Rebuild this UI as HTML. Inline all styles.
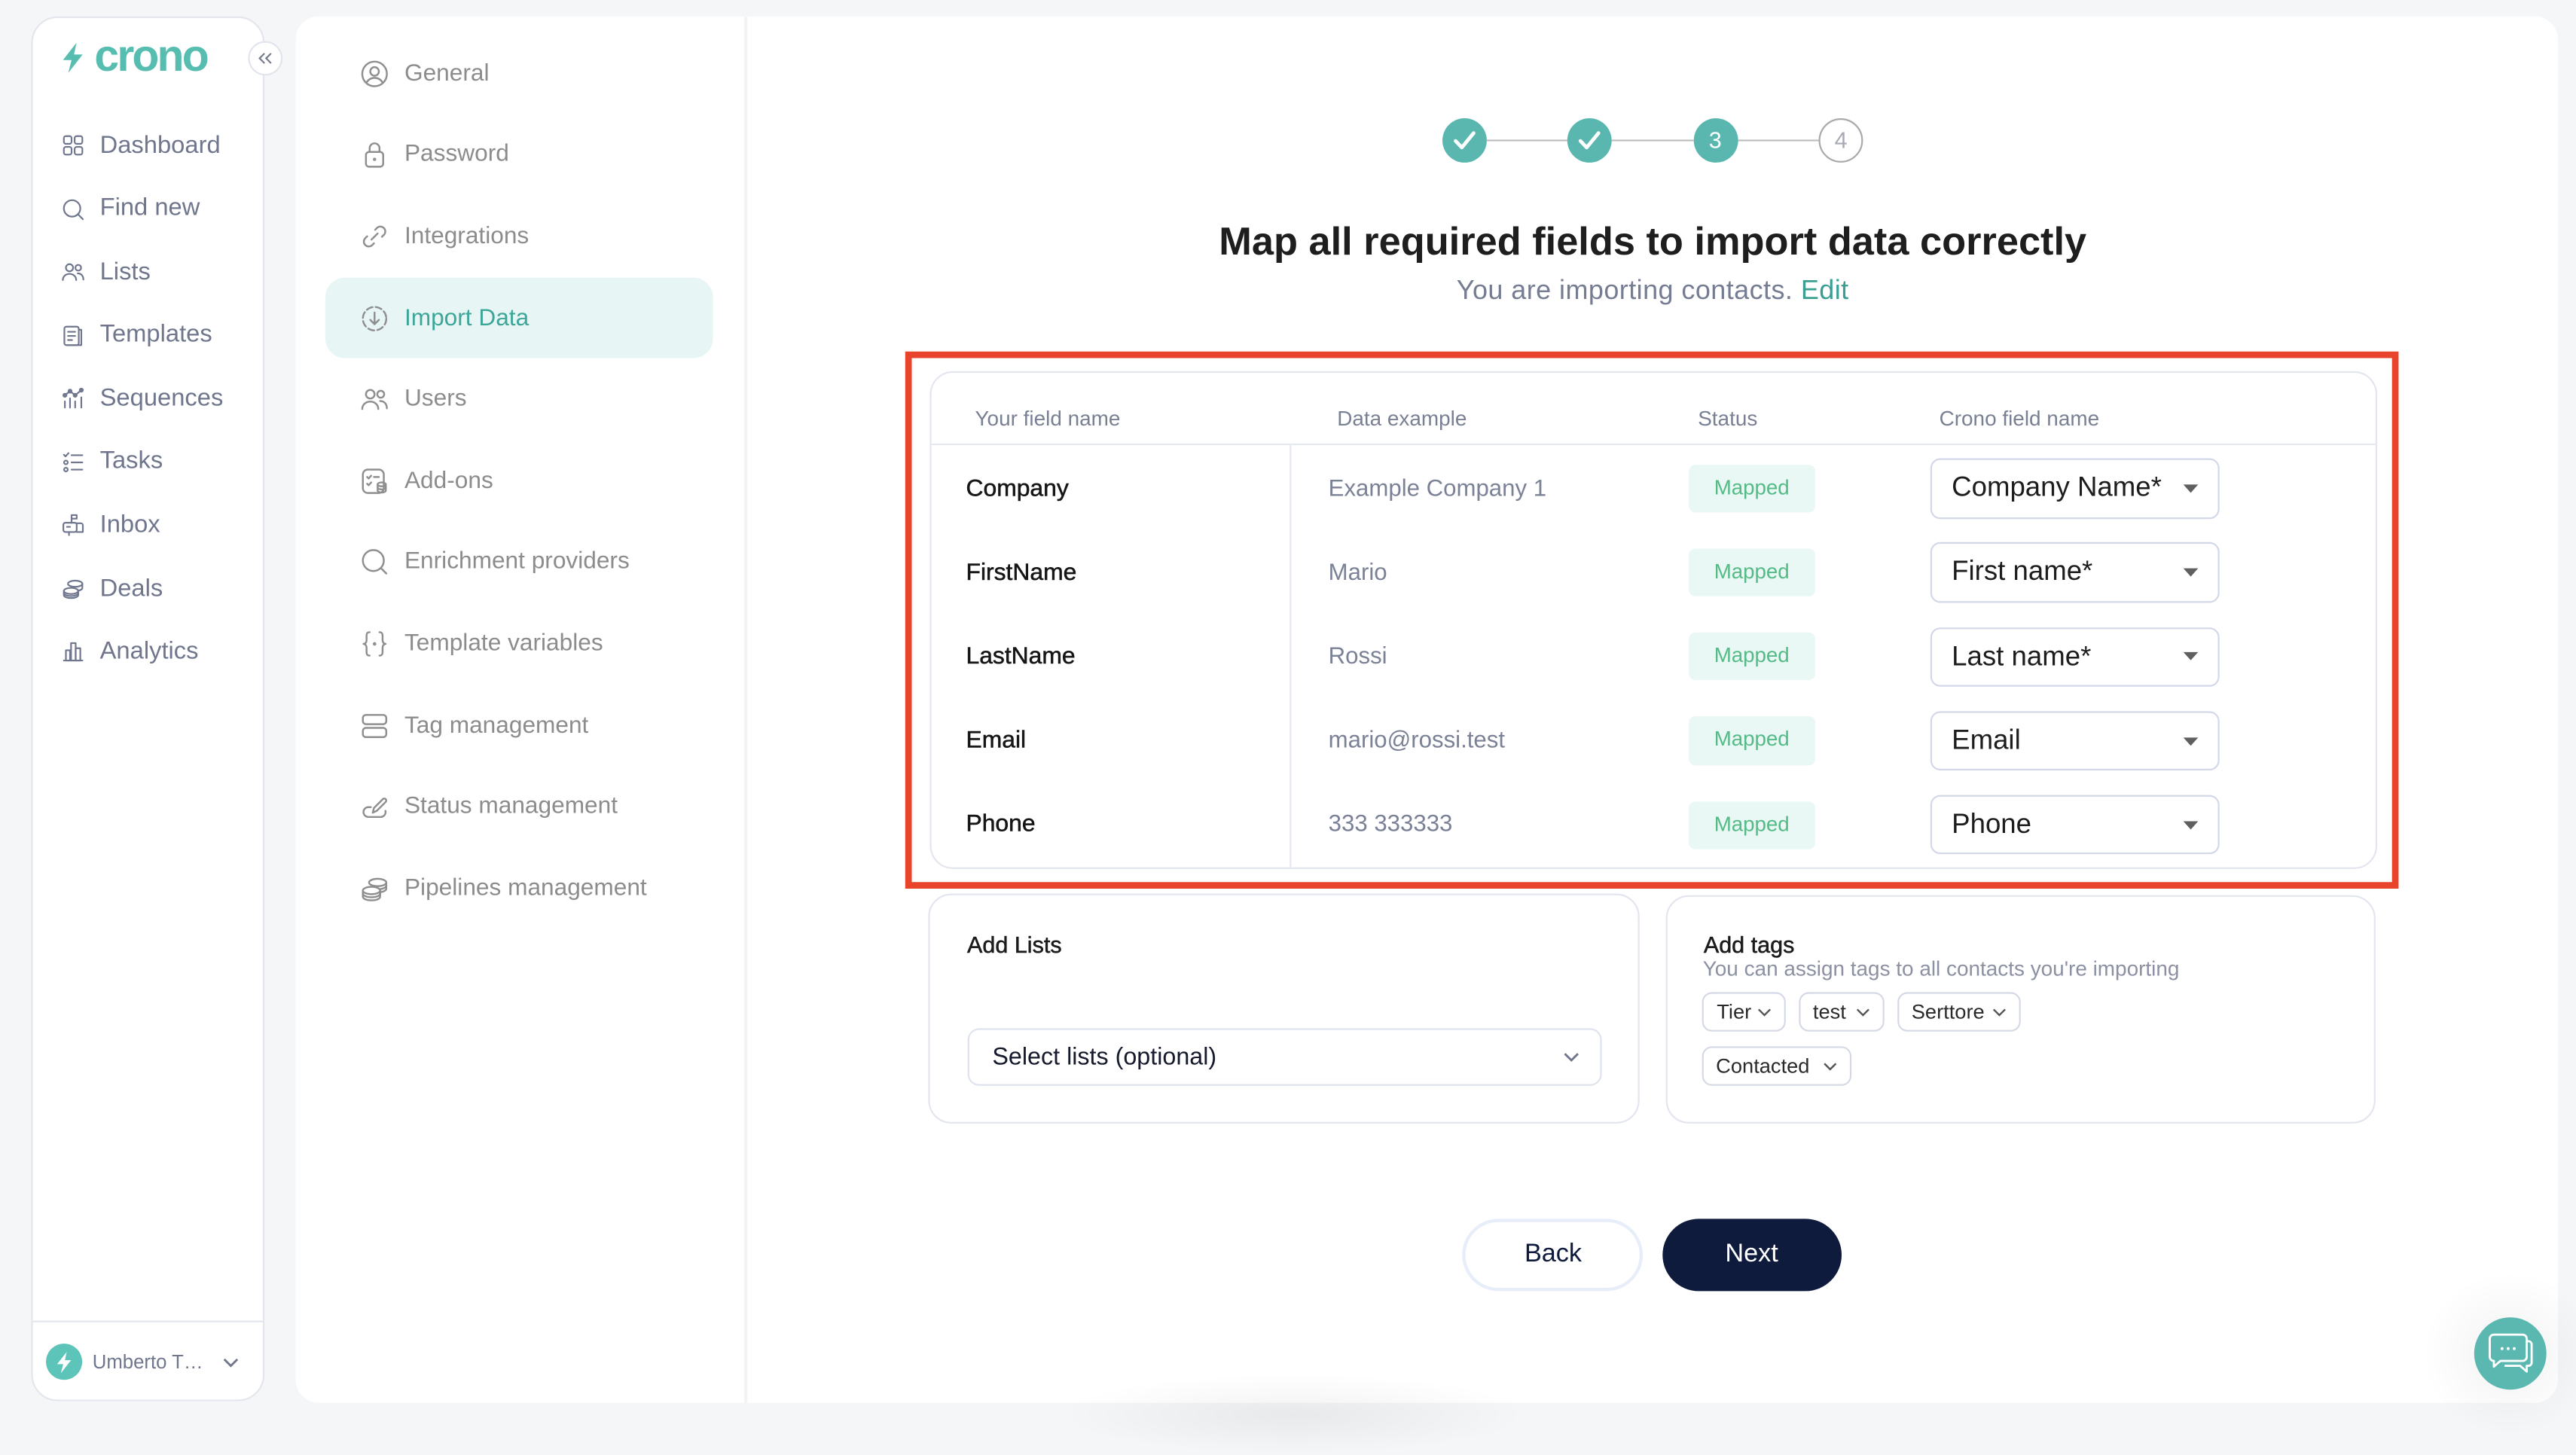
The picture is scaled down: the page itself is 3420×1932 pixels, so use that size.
<!DOCTYPE html>
<html><head><meta charset="utf-8">
<style>
html,body{margin:0;padding:0;}
body{width:3420px;height:1878px;overflow:hidden;background:#f5f6f8;font-family:"Liberation Sans",Arial,sans-serif;}
#root{position:absolute;left:0;top:0;width:1568px;height:861px;transform:scale(2.181122);transform-origin:0 0;}
.a{position:absolute;box-sizing:border-box;}
.t{position:absolute;white-space:nowrap;line-height:20px;height:20px;}
svg{position:absolute;overflow:visible;}
.nv{font-size:15px;color:#6f768d;left:60.8px;}
.ni{left:36.5px;width:15px;height:15px;}
.ni *{fill:none;stroke:#6f768d;stroke-width:1.6;stroke-linecap:round;stroke-linejoin:round;}
.st{font-size:14.5px;color:#8c8c8c;left:246.2px;}
.si{left:218.5px;width:18px;height:18px;}
.si *{fill:none;stroke:#8f8f8f;stroke-width:1.5;stroke-linecap:round;stroke-linejoin:round;}
.hd{font-size:12.8px;color:#7a8094;top:245.4px;}
.c1{font-size:14.6px;color:#161616;left:588px;-webkit-text-stroke:0.25px #161616;}
.c2{font-size:14.3px;color:#7b8196;left:808.6px;}
.badge{left:1028px;width:76.6px;height:29.2px;background:#e9f7f5;border-radius:4px;font-size:12.7px;color:#55bb86;text-align:center;line-height:29.2px;}
.dd{left:1175px;width:175.6px;height:36.3px;border:1px solid #d3d8e8;border-radius:6px;background:#fff;font-size:16.8px;color:#1d1d1d;line-height:34.3px;padding-left:12px;white-space:nowrap;}
.tag{height:24.6px;border:1px solid #d5d9e6;border-radius:6px;background:#fff;}
.tg{font-size:12.5px;color:#2a2a2a;}
</style></head><body><div id="root">

<!-- Sidebar -->
<div class="a" style="left:19px;top:9.7px;width:142px;height:843.5px;background:#fff;border:1px solid #e4e6ee;border-radius:16px;"></div>
<div class="a" style="left:20px;top:804.3px;width:140px;height:1px;background:#e4e6ee;"></div>

<svg style="left:36.6px;top:26.4px;width:14.6px;height:18.4px" viewBox="0 0 14 20"><path d="M9.5 0 L0.5 11.5 H6.2 L4 20 L13.5 7.8 H7.8 Z" fill="#56bdb0"/></svg>
<div class="t" style="left:57.5px;top:18.7px;line-height:30px;height:30px;font-size:27px;font-weight:bold;letter-spacing:-1.3px;color:#56bdb0;">crono</div>

<div class="a" style="left:150.5px;top:24.5px;width:21px;height:21px;border-radius:50%;background:#fff;border:1px solid #e2e5ed;"></div>
<svg style="left:156.5px;top:31.5px;width:9px;height:7px" viewBox="0 0 9 7"><path d="M4 0.5L1 3.5L4 6.5M8 0.5L5 3.5L8 6.5" fill="none" stroke="#777c8c" stroke-width="1"/></svg>

<!-- nav items -->
<svg class="ni" style="top:81.4px" viewBox="0 0 24 24"><rect x="3" y="3" width="7.5" height="7.5" rx="2"/><rect x="13.5" y="3" width="7.5" height="7.5" rx="2"/><rect x="3" y="13.5" width="7.5" height="7.5" rx="2"/><rect x="13.5" y="13.5" width="7.5" height="7.5" rx="2"/></svg>
<div class="t nv" style="top:78.9px">Dashboard</div>

<svg class="ni" style="top:119.8px" viewBox="0 0 24 24"><circle cx="11" cy="11" r="8"/><path d="M17 17l4.5 4.5"/></svg>
<div class="t nv" style="top:117.3px">Find new</div>

<svg class="ni" style="top:158.4px" viewBox="0 0 24 24"><circle cx="8.5" cy="8" r="3.5"/><path d="M2 20c0-3.6 2.9-6 6.5-6s6.5 2.4 6.5 6"/><circle cx="17" cy="8" r="2.8"/><path d="M16.5 13.5c3.2 0 5.5 2.3 5.5 6"/></svg>
<div class="t nv" style="top:155.9px">Lists</div>

<svg class="ni" style="top:196.7px" viewBox="0 0 24 24"><rect x="3.5" y="3" width="14" height="18" rx="2"/><path d="M17.5 6h2.5v15H6"/><path d="M7 8h7M7 12h7M7 16h4"/></svg>
<div class="t nv" style="top:194.2px">Templates</div>

<svg class="ni" style="top:235.4px" viewBox="0 0 24 24"><path d="M4 9l5-4 5 4 6-5"/><circle cx="4" cy="9" r="1.5"/><circle cx="9" cy="5" r="1.5"/><circle cx="14" cy="9" r="1.5"/><circle cx="20" cy="4" r="1.5"/><path d="M4 15v6M9 12v9M14 15v6M20 11v10"/></svg>
<div class="t nv" style="top:232.9px">Sequences</div>

<svg class="ni" style="top:273.7px" viewBox="0 0 24 24"><path d="M3 4.5l1.6 1.6L7.5 3"/><circle cx="5" cy="12" r="1.8"/><circle cx="5" cy="19" r="1.8"/><path d="M10.5 5h10.5M10.5 12h10.5M10.5 19h10.5"/></svg>
<div class="t nv" style="top:271.2px">Tasks</div>

<svg class="ni" style="top:312.4px" viewBox="0 0 24 24"><rect x="2.5" y="10" width="13" height="9" rx="2"/><path d="M15.5 10.5h4a2 2 0 0 1 2 2V19h-6"/><path d="M10.5 10V2.5h5v3.5h-5"/><path d="M8 19v3M6 14h3"/></svg>
<div class="t nv" style="top:309.9px">Inbox</div>

<svg class="ni" style="top:351px" viewBox="0 0 24 24"><ellipse cx="10" cy="14" rx="7" ry="3"/><path d="M3 14v4c0 1.7 3.1 3 7 3s7-1.3 7-3v-4"/><path d="M3 16c0 1.7 3.1 3 7 3s7-1.3 7-3"/><ellipse cx="14" cy="7" rx="7" ry="3"/><path d="M21 7v4c0 1.3-1.8 2.4-4.3 2.8"/></svg>
<div class="t nv" style="top:348.5px">Deals</div>

<svg class="ni" style="top:389.3px" viewBox="0 0 24 24"><path d="M3 21h18"/><rect x="5" y="11" width="4" height="10"/><rect x="10" y="4" width="4.5" height="17"/><rect x="14.5" y="9" width="4.5" height="12"/></svg>
<div class="t nv" style="top:386.8px">Analytics</div>

<!-- sidebar user -->
<div class="a" style="left:28.4px;top:818px;width:22px;height:22px;border-radius:50%;background:#5cc4b9;"></div>
<svg style="left:34.4px;top:822.5px;width:10px;height:13px" viewBox="0 0 14 20"><path d="M9.5 0 L0.5 11.5 H6.2 L4 20 L13.5 7.8 H7.8 Z" fill="#fff"/></svg>
<div class="t" style="left:56.3px;top:819px;font-size:11.8px;color:#6f768d;">Umberto T…</div>
<svg style="left:136px;top:826.5px;width:9px;height:5px" viewBox="0 0 9 5"><path d="M0.5 0.5L4.5 4.5L8.5 0.5" fill="none" stroke="#6f768d" stroke-width="1.3"/></svg>

<!-- Main panel -->
<div class="a" style="left:180px;top:9.5px;width:1377px;height:844px;background:#fff;border-radius:14px;"></div>
<div class="a" style="left:452.5px;top:9.5px;width:2.5px;height:844px;background:#f2f3f6;"></div>

<!-- Settings menu -->
<div class="a" style="left:198.3px;top:168.7px;width:235.3px;height:49.4px;background:#e7f6f5;border-radius:12px;"></div>

<svg class="si" style="top:35.8px" viewBox="0 0 24 24"><circle cx="12" cy="12" r="10"/><circle cx="12" cy="10" r="3.5"/><path d="M5.5 19c1.5-2.5 4-3.8 6.5-3.8s5 1.3 6.5 3.8"/></svg>
<div class="t st" style="top:34.8px">General</div>

<svg class="si" style="top:85.4px" viewBox="0 0 24 24"><rect x="5" y="10" width="14" height="12" rx="2.5"/><path d="M8 10V7a4 4 0 0 1 8 0v3"/><circle cx="12" cy="16" r="0.6"/></svg>
<div class="t st" style="top:84.4px">Password</div>

<svg class="si" style="top:135px" viewBox="0 0 24 24"><path d="M9.5 14.5l5-5"/><path d="M12.5 6.5l1.8-1.8a4 4 0 0 1 5.6 5.6L18 12.2"/><path d="M11.5 17.5l-1.8 1.8a4 4 0 0 1-5.6-5.6L6 11.8"/></svg>
<div class="t st" style="top:134px">Integrations</div>

<svg class="si" style="top:184.6px" viewBox="0 0 24 24"><circle cx="12" cy="12" r="9.5" stroke="#3ea699" stroke-dasharray="5 2.6"/><path d="M12 7v9.5M8.5 13l3.5 3.5 3.5-3.5" stroke="#3ea699"/></svg>
<div class="t st" style="top:183.6px;color:#3ea699;">Import Data</div>

<svg class="si" style="top:234.2px" viewBox="0 0 24 24"><circle cx="8.5" cy="8" r="3.5"/><path d="M2 20c0-3.6 2.9-6 6.5-6s6.5 2.4 6.5 6"/><circle cx="17" cy="8" r="2.8"/><path d="M16.5 13.5c3.2 0 5.5 2.3 5.5 6"/></svg>
<div class="t st" style="top:233.2px">Users</div>

<svg class="si" style="top:283.8px" viewBox="0 0 24 24"><rect x="2.5" y="2.5" width="17" height="19" rx="4"/><path d="M6 8.5l1.2 1.2L9.2 7.5M6 14l1.2 1.2 2-2.2M11.5 8.5h4"/><path d="M14.5 14.5v5c0 .9 1.5 1.6 3.3 1.6s3.3-.7 3.3-1.6v-5" fill="#fff"/><ellipse cx="17.8" cy="14.5" rx="3.3" ry="1.6" fill="#fff"/><path d="M14.5 17c0 .9 1.5 1.6 3.3 1.6s3.3-.7 3.3-1.6"/></svg>
<div class="t st" style="top:282.8px">Add-ons</div>

<svg class="si" style="top:333.4px" viewBox="0 0 24 24"><circle cx="11" cy="11" r="8.5"/><path d="M17.5 17.5l4 4"/></svg>
<div class="t st" style="top:332.4px">Enrichment providers</div>

<svg class="si" style="top:383px" viewBox="0 0 24 24"><path d="M8 2.5c-2 0-2.5 1-2.5 3v3.5c0 1.5-1 3-2.5 3 1.5 0 2.5 1.5 2.5 3v3.5c0 2 .5 3 2.5 3"/><path d="M16 2.5c2 0 2.5 1 2.5 3v3.5c0 1.5 1 3 2.5 3-1.5 0-2.5 1.5-2.5 3v3.5c0 2-.5 3-2.5 3"/><circle cx="12" cy="12" r="0.7"/></svg>
<div class="t st" style="top:382px">Template variables</div>

<svg class="si" style="top:432.6px" viewBox="0 0 24 24"><rect x="2.5" y="3" width="19" height="7.5" rx="2.5"/><rect x="2.5" y="13.5" width="19" height="7.5" rx="2.5"/></svg>
<div class="t st" style="top:431.6px">Tag management</div>

<svg class="si" style="top:482.2px" viewBox="0 0 24 24"><path d="M9 12.5H7a4 4 0 0 0 0 8h10a4 4 0 0 0 3.8-5"/><path d="M10.5 17l1-3.8 7.2-7.2a1.6 1.6 0 0 1 2.3 2.3l-7.2 7.2z"/></svg>
<div class="t st" style="top:481.2px">Status management</div>

<svg class="si" style="top:531.8px" viewBox="0 0 24 24"><ellipse cx="9.5" cy="13.5" rx="7" ry="3"/><path d="M2.5 13.5v5c0 1.7 3.1 3 7 3s7-1.3 7-3v-5"/><path d="M2.5 16c0 1.7 3.1 3 7 3s7-1.3 7-3"/><ellipse cx="14.5" cy="7" rx="7" ry="3"/><path d="M21.5 7v5c0 1.3-1.8 2.4-4.5 2.8"/><path d="M21.5 9.5c0 1.3-1.8 2.4-4.5 2.8"/></svg>
<div class="t st" style="top:530.8px">Pipelines management</div>

<!-- Stepper -->
<div class="a" style="left:904.8px;top:84.7px;width:49.4px;height:1px;background:#bdbdbd;"></div>
<div class="a" style="left:981.2px;top:84.7px;width:49.4px;height:1px;background:#bdbdbd;"></div>
<div class="a" style="left:1057.6px;top:84.7px;width:49.7px;height:1px;background:#bdbdbd;"></div>
<div class="a" style="left:877.8px;top:71.7px;width:27px;height:27px;border-radius:50%;background:#5ab7b0;"></div>
<svg style="left:877.8px;top:71.7px;width:27px;height:27px" viewBox="0 0 27 27"><path d="M8 13.8l3.8 4L19 9" fill="none" stroke="#fff" stroke-width="2.2" stroke-linecap="round" stroke-linejoin="round"/></svg>
<div class="a" style="left:954.2px;top:71.7px;width:27px;height:27px;border-radius:50%;background:#5ab7b0;"></div>
<svg style="left:954.2px;top:71.7px;width:27px;height:27px" viewBox="0 0 27 27"><path d="M8 13.8l3.8 4L19 9" fill="none" stroke="#fff" stroke-width="2.2" stroke-linecap="round" stroke-linejoin="round"/></svg>
<div class="a" style="left:1030.6px;top:71.7px;width:27px;height:27px;border-radius:50%;background:#5ab7b0;color:#fff;font-size:14px;text-align:center;line-height:27px;">3</div>
<div class="a" style="left:1107.1px;top:71.7px;width:27px;height:27px;border-radius:50%;background:#fff;border:1px solid #a9a9a9;color:#a8aab5;font-size:14px;text-align:center;line-height:25px;">4</div>

<!-- Title -->
<div class="t" style="left:456px;width:1100px;text-align:center;top:134.4px;line-height:28px;height:28px;font-size:24px;font-weight:bold;color:#1e1e1e;">Map all required fields to import data correctly</div>
<div class="t" style="left:456px;width:1100px;text-align:center;top:166.8px;font-size:16.5px;letter-spacing:0.2px;color:#767d93;">You are importing contacts. <span style="color:#3b9e92">Edit</span></div>

<!-- Table card -->
<div class="a" style="left:565.5px;top:226.2px;width:881px;height:302.4px;border:1px solid #e3e6ef;border-radius:14px;background:#fff;"></div>
<div class="a" style="left:566.5px;top:270.2px;width:879px;height:1px;background:#e6e8f0;"></div>
<div class="a" style="left:785px;top:271px;width:1px;height:256.6px;background:#e6e8f0;"></div>

<div class="t hd" style="left:593.5px">Your field name</div>
<div class="t hd" style="left:813.9px">Data example</div>
<div class="t hd" style="left:1033.5px">Status</div>
<div class="t hd" style="left:1180.4px">Crono field name</div>

<!-- row 1 -->
<div class="t c1" style="top:287.5px">Company</div>
<div class="t c2" style="top:287.5px">Example Company 1</div>
<div class="a badge" style="top:282.9px">Mapped</div>
<div class="a dd" style="top:279.3px">Company Name*</div>
<svg style="left:1329px;top:295px;width:9px;height:5px" viewBox="0 0 9 5"><path d="M0 0H9L4.5 5Z" fill="#5f5f5f"/></svg>
<!-- row 2 -->
<div class="t c1" style="top:338.6px">FirstName</div>
<div class="t c2" style="top:338.6px">Mario</div>
<div class="a badge" style="top:334px">Mapped</div>
<div class="a dd" style="top:330.4px">First name*</div>
<svg style="left:1329px;top:346.1px;width:9px;height:5px" viewBox="0 0 9 5"><path d="M0 0H9L4.5 5Z" fill="#5f5f5f"/></svg>
<!-- row 3 -->
<div class="t c1" style="top:389.8px">LastName</div>
<div class="t c2" style="top:389.8px">Rossi</div>
<div class="a badge" style="top:385.2px">Mapped</div>
<div class="a dd" style="top:381.6px">Last name*</div>
<svg style="left:1329px;top:397.3px;width:9px;height:5px" viewBox="0 0 9 5"><path d="M0 0H9L4.5 5Z" fill="#5f5f5f"/></svg>
<!-- row 4 -->
<div class="t c1" style="top:441px">Email</div>
<div class="t c2" style="top:441px">mario@rossi.test</div>
<div class="a badge" style="top:436.4px">Mapped</div>
<div class="a dd" style="top:432.8px">Email</div>
<svg style="left:1329px;top:448.5px;width:9px;height:5px" viewBox="0 0 9 5"><path d="M0 0H9L4.5 5Z" fill="#5f5f5f"/></svg>
<!-- row 5 -->
<div class="t c1" style="top:492.2px">Phone</div>
<div class="t c2" style="top:492.2px">333 333333</div>
<div class="a badge" style="top:487.6px">Mapped</div>
<div class="a dd" style="top:484px">Phone</div>
<svg style="left:1329px;top:499.7px;width:9px;height:5px" viewBox="0 0 9 5"><path d="M0 0H9L4.5 5Z" fill="#5f5f5f"/></svg>

<!-- Add Lists card -->
<div class="a" style="left:565.4px;top:544px;width:432.8px;height:140.4px;border:1px solid #e3e6ef;border-radius:14px;background:#fff;"></div>
<div class="t" style="left:588.7px;top:564.6px;font-size:14px;color:#1c1c1c;-webkit-text-stroke:0.25px #1c1c1c;">Add Lists</div>
<div class="a" style="left:588.7px;top:625.9px;width:386.1px;height:35.6px;border:1px solid #dfe3ee;border-radius:7px;background:#fff;"></div>
<div class="t" style="left:604px;top:633.7px;font-size:14.8px;color:#151a2d;">Select lists (optional)</div>
<svg style="left:951.5px;top:641.2px;width:9px;height:5px" viewBox="0 0 9 5"><path d="M0.5 0.5L4.5 4.5L8.5 0.5" fill="none" stroke="#6f768d" stroke-width="1.3"/></svg>

<!-- Add tags card -->
<div class="a" style="left:1014px;top:544.7px;width:432.4px;height:139.7px;border:1px solid #e3e6ef;border-radius:14px;background:#fff;"></div>
<div class="t" style="left:1037px;top:564.8px;font-size:14px;color:#1c1c1c;-webkit-text-stroke:0.25px #1c1c1c;">Add tags</div>
<div class="t" style="left:1036.5px;top:579.5px;font-size:12.8px;color:#8b90a3;">You can assign tags to all contacts you're importing</div>

<div class="a tag" style="left:1036.4px;top:603.9px;width:50.7px;"></div>
<div class="t tg" style="left:1045px;top:606.2px">Tier</div>
<svg style="left:1070px;top:614.2px;width:8px;height:4.5px" viewBox="0 0 8 4.5"><path d="M0.5 0.5L4 4L7.5 0.5" fill="none" stroke="#555" stroke-width="1.1"/></svg>

<div class="a tag" style="left:1095px;top:603.9px;width:51.7px;"></div>
<div class="t tg" style="left:1103.5px;top:606.2px">test</div>
<svg style="left:1129.7px;top:614.2px;width:8px;height:4.5px" viewBox="0 0 8 4.5"><path d="M0.5 0.5L4 4L7.5 0.5" fill="none" stroke="#555" stroke-width="1.1"/></svg>

<div class="a tag" style="left:1155px;top:603.9px;width:74.6px;"></div>
<div class="t tg" style="left:1163.5px;top:606.2px">Serttore</div>
<svg style="left:1212.6px;top:614.2px;width:8px;height:4.5px" viewBox="0 0 8 4.5"><path d="M0.5 0.5L4 4L7.5 0.5" fill="none" stroke="#555" stroke-width="1.1"/></svg>

<div class="a tag" style="left:1036.4px;top:636.9px;width:90.3px;"></div>
<div class="t tg" style="left:1044.5px;top:639.2px">Contacted</div>
<svg style="left:1109.7px;top:647.2px;width:8px;height:4.5px" viewBox="0 0 8 4.5"><path d="M0.5 0.5L4 4L7.5 0.5" fill="none" stroke="#555" stroke-width="1.1"/></svg>

<!-- Buttons -->
<div class="a" style="left:890.4px;top:742px;width:110px;height:43.5px;border:2px solid #e8eef9;border-radius:22px;background:#fff;color:#0f1b3d;font-size:15.7px;text-align:center;line-height:39.5px;">Back</div>
<div class="a" style="left:1011.5px;top:742px;width:109.5px;height:43.5px;border-radius:22px;background:#0f1b3d;color:#fff;font-size:15.7px;text-align:center;line-height:43.5px;">Next</div>

<!-- Chat bubble -->
<div class="a" style="left:1470px;top:770px;width:115px;height:108px;border-radius:50%;background:radial-gradient(ellipse at center, rgba(0,0,0,0.05), rgba(0,0,0,0) 65%);"></div>
<div class="a" style="left:1505.7px;top:802px;width:44px;height:44px;border-radius:50%;background:#5ab8b0;"></div>
<svg style="left:1505.7px;top:802px;width:44px;height:44px" viewBox="0 0 44 44"><path d="M32 14.5h1a2 2 0 0 1 2 2v11a2 2 0 0 1-2 2h-1v3.5l-4-3.5h-9.5" fill="none" stroke="#fff" stroke-width="1.3" stroke-linejoin="round"/><path d="M12 10.5h17.5a2.5 2.5 0 0 1 2.5 2.5v11a2.5 2.5 0 0 1-2.5 2.5H16l-4 3.5V26.5a2.5 2.5 0 0 1-2.5-2.5V13A2.5 2.5 0 0 1 12 10.5Z" fill="#5ab8b0" stroke="#fff" stroke-width="1.3" stroke-linejoin="round"/><circle cx="17" cy="19" r="0.9" fill="#fff"/><circle cx="20.7" cy="19" r="0.9" fill="#fff"/><circle cx="24.4" cy="19" r="0.9" fill="#fff"/></svg>

<!-- bottom shadow -->
<div class="a" style="left:645px;top:836px;width:285px;height:50px;background:radial-gradient(ellipse at center, rgba(0,0,0,0.05), rgba(0,0,0,0) 70%);"></div>

<!-- Red annotation box -->
<div class="a" style="left:551px;top:213.5px;width:909.3px;height:327.5px;border:4px solid #e8432b;"></div>

</div></body></html>
